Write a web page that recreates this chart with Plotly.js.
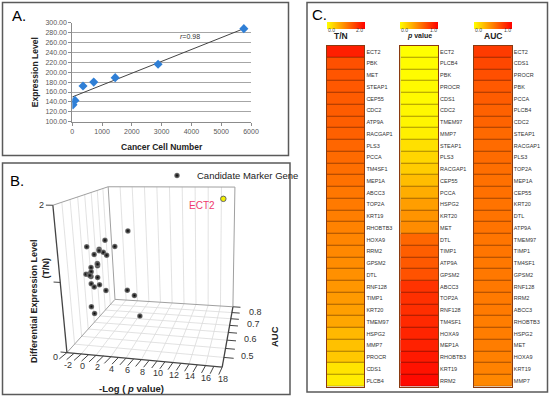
<!DOCTYPE html>
<html><head><meta charset="utf-8">
<script src="https://cdn.plot.ly/plotly-3.0.1.min.js"></script>
<style>html,body{margin:0;padding:0;background:#fff}#chart{width:550px;height:397px}</style>
</head><body><div id="chart"></div>
<script>
// ---------- Panel A data ----------
const cellNumbers = [22, 90, 360, 720, 1440, 2880, 5760];
const expressionLevels = [134, 143, 172, 180, 189, 216, 288];
const trendCells = [0, 5760];
const trendLevels = [150, 288];
const rLabel = '<i>r</i>=0.98';

// ---------- Panel B data (-log p, AUC, T/N) ----------
const bNegLogP = [4.0, 1.28, 0.2, 1.96, 0.72, 0.92, 1.02, 0.35, 0.32, 0.13, 0.17, 0.02, 0.05, 0.08, 0.22, 0.03, 0.23, 0.02, 0.57, 2.83, 3.9, 0.22, 0.6, 5.76, 0.35, 0.15, 0.7, 0.12];
const bAUC     = [0.65, 0.61, 0.53, 0.65, 0.59, 0.61, 0.63, 0.57, 0.59, 0.60, 0.55, 0.52, 0.54, 0.55, 0.59, 0.55, 0.60, 0.57, 0.63, 0.69, 0.69, 0.53, 0.53, 0.61, 0.59, 0.55, 0.59, 0.54];
const bTN      = [1.48, 1.38, 1.38, 1.24, 1.27, 1.2, 1.13, 1.22, 1.06, 1.01, 1.06, 1.01, 0.98, 0.93, 0.85, 0.82, 0.72, 0.74, 0.58, 0.49, 0.41, 0.52, 0.42, 0.25, 1.05, 1.0, 1.25, 0.96];
const ectGene = ['ECT2'];
const ectNegLogP = [16.5];
const ectAUC = [0.80];
const ectTN = [1.85];
const bXRange = [-2, 18], bYRange = [0.45, 0.85], bZRange = [0, 2];
const bXTicks = [-2, 0, 2, 4, 6, 8, 10, 12, 14, 16, 18];
const bXMinor = [-1, 1, 3, 5, 7, 9, 11, 13, 15, 17];
const bYTicks = [0.5, 0.55, 0.6, 0.65, 0.7, 0.75, 0.8, 0.85];
const bYTickText = ['0.5', '', '0.6', '', '0.7', '', '0.8', ''];
const bZTicks = [0, 1, 2];
const bZTickText = ['0', '', '2'];

// ---------- Panel C data ----------
const tnGenes = ['ECT2','PBK','MET','STEAP1','CEP55','CDC2','ATP9A','RACGAP1','PLS3','PCCA','TM4SF1','MEP1A','ABCC3','TOP2A','KRT19','RHOBTB3','HOXA9','RRM2','GPSM2','DTL','RNF128','TIMP1','KRT20','TMEM97','HSPG2','MMP7','PROCR','CDS1','PLCB4'];
const tnValues = [1.76,1.37,1.33,1.31,1.29,1.28,1.26,1.25,1.2,1.17,1.14,1.11,1.07,1.04,1.01,0.98,0.96,0.93,0.9,0.87,0.82,0.79,0.75,0.7,0.56,0.49,0.43,0.21,0.15];
const pGenes = ['ECT2','PLCB4','PBK','PROCR','CDS1','CDC2','TMEM97','MMP7','STEAP1','PLS3','RACGAP1','CEP55','PCCA','HSPG2','KRT20','MET','DTL','TIMP1','ATP9A','GPSM2','ABCC3','TOP2A','RNF128','TM4SF1','HOXA9','MEP1A','RHOBTB3','KRT19','RRM2'];
const pValues = [0.0,0.01,0.01,0.02,0.02,0.03,0.04,0.06,0.12,0.16,0.2,0.26,0.32,0.38,0.42,0.45,0.6,0.63,0.65,0.68,0.8,0.81,0.82,0.84,0.86,0.87,0.9,0.93,0.96];
const aucGenes = ['ECT2','CDS1','PROCR','PBK','PCCA','PLCB4','CDC2','STEAP1','RACGAP1','PLS3','TOP2A','MEP1A','CEP55','KRT20','DTL','ATP9A','TMEM97','TIMP1','TM4SF1','GPSM2','RNF128','RRM2','ABCC3','RHOBTB3','HSPG2','MET','HOXA9','KRT19','MMP7'];
const aucValues = [0.77,0.72,0.69,0.65,0.64,0.62,0.61,0.59,0.58,0.58,0.57,0.56,0.56,0.55,0.55,0.55,0.54,0.54,0.53,0.53,0.53,0.52,0.52,0.51,0.51,0.51,0.5,0.49,0.47];
const colTitles = ['<b>T/N</b>', '<b><i>p</i> value</b>', '<b>AUC</b>'];
const colRanges = [[0, 2], [0, 1], [0, 1]];
const colTickText = [['0.0', '2.0'], ['0.0', '1.0'], ['0.0', '1.0']];

// ---------- helpers ----------
const W = 550, H = 397;
const px = v => v / W, py = v => 1 - v / H;
const FONT = 'Arial, "Liberation Sans", sans-serif';
const yr = [[0, '#ffff00'], [1, '#ff0000']];
const yrDark = [[0, '#a89a00'], [1, '#a00000']];

// ---- Panel B camera: pinhole projection fitted (DLT) to where the axis box corners sit ----
const boxView = [
  [[0,0,0],[67,353]], [[1,0,0],[222,367]], [[0,1,0],[115,299]], [[1,1,0],[233,307]],
  [[0,0,1],[53,205]], [[0,1,1],[108,187]], [[1,1,1],[235,187]]
];
function fitCamera(pts) {
  const n = 11, M = [...Array(n)].map(() => Array(n + 1).fill(0));
  const rows = [];
  pts.forEach(([[X, Y, Z], [u, v]]) => {
    rows.push([[X, Y, Z, 1, 0, 0, 0, 0, -u * X, -u * Y, -u * Z], u]);
    rows.push([[0, 0, 0, 0, X, Y, Z, 1, -v * X, -v * Y, -v * Z], v]);
  });
  rows.forEach(([a, b]) => { for (let i = 0; i < n; i++) { for (let j = 0; j < n; j++) M[i][j] += a[i] * a[j]; M[i][n] += a[i] * b; } });
  for (let c = 0; c < n; c++) {
    let p = c; for (let r = c + 1; r < n; r++) if (Math.abs(M[r][c]) > Math.abs(M[p][c])) p = r;
    [M[c], M[p]] = [M[p], M[c]];
    for (let r = 0; r < n; r++) { if (r === c) continue; const f = M[r][c] / M[c][c]; for (let k = c; k <= n; k++) M[r][k] -= f * M[c][k]; }
  }
  return M.map((row, i) => row[n] / row[i]);
}
const P = fitCamera(boxView);
function proj(s, t, h) {
  const w = P[8] * s + P[9] * t + P[10] * h + 1;
  return [(P[0] * s + P[1] * t + P[2] * h + P[3]) / w, (P[4] * s + P[5] * t + P[6] * h + P[7]) / w];
}
const nx = v => (v - bXRange[0]) / (bXRange[1] - bXRange[0]);
const ny = v => (v - bYRange[0]) / (bYRange[1] - bYRange[0]);
const nz = v => (v - bZRange[0]) / (bZRange[1] - bZRange[0]);
const projData = (x, y, z) => proj(nx(x), ny(y), nz(z));
function segs(list) {
  const X = [], Y = [];
  list.forEach(([a, b]) => { const p = proj(...a), q = proj(...b); X.push(p[0], q[0], null); Y.push(p[1], q[1], null); });
  return {x: X, y: Y};
}
const lineTrace = (list, color, width) => Object.assign({type:'scatter', mode:'lines', xaxis:'x5', yaxis:'y5',
  line:{color:color, width:width}, showlegend:false, hoverinfo:'skip'}, segs(list));

const traces = [];
// Panel A
traces.push({type:'scatter', mode:'lines', x:trendCells, y:trendLevels, xaxis:'x', yaxis:'y',
  line:{color:'#444', width:1}, showlegend:false, hoverinfo:'skip'});
traces.push({type:'scatter', mode:'markers', x:cellNumbers, y:expressionLevels, xaxis:'x', yaxis:'y',
  marker:{symbol:'diamond', size:7, color:'#2f7fd6'}, showlegend:false});

// Panel B: grid, box, axes
const gridL = [];
bXTicks.slice(1, -1).forEach(v => { const s = nx(v); gridL.push([[s,0,0],[s,1,0]], [[s,1,0],[s,1,1]]); });
bYTicks.filter(v => v < bYRange[1]).forEach(v => { const t = ny(v); gridL.push([[0,t,0],[1,t,0]], [[0,t,0],[0,t,1]]); });
traces.push(lineTrace(gridL, '#dadada', 0.8));
traces.push(lineTrace([[[0,1,0],[0,1,1]], [[1,1,0],[1,1,1]], [[0,0,1],[0,1,1]], [[0,1,1],[1,1,1]],
  [[0,0,0],[0,1,0]], [[0,1,0],[1,1,0]]], '#a0a0a0', 1));
const tickL = [];
bXTicks.concat(bXMinor).forEach(v => { const s = nx(v); tickL.push([[s,0,0],[s - 0.012,-0.09,0]]); });
bYTicks.forEach(v => { const t = ny(v); tickL.push([[1,t,0],[1.06,t,0]]); });
bZTicks.forEach(v => { const h = nz(v); tickL.push([[0,0,h],[-0.045,0,h]]); });
traces.push(lineTrace(tickL, '#444', 1));
traces.push(lineTrace([[[0,0,0],[1,0,0]], [[1,0,0],[1,1,0]], [[0,0,0],[0,0,1]]], '#444', 1.3));

// Panel B: points
const bProj = bNegLogP.map((v, i) => projData(v, bAUC[i], bTN[i]));
traces.push({type:'scatter', mode:'markers', xaxis:'x5', yaxis:'y5', x:bProj.map(p => p[0]), y:bProj.map(p => p[1]),
  name:'Candidate Marker Gene', showlegend:true,
  marker:{size:5.5, color:'#808080', gradient:{type:'radial', color:'#000'}, line:{width:0}}});
const eProj = ectNegLogP.map((v, i) => projData(v, ectAUC[i], ectTN[i]));
traces.push({type:'scatter', mode:'markers', xaxis:'x5', yaxis:'y5', x:eProj.map(p => p[0]), y:eProj.map(p => p[1]),
  name:ectGene[0], showlegend:false, marker:{size:5.5, color:'#f2f000', line:{color:'#666', width:1}}});

// Panel C
const cols = [
  {genes:tnGenes, vals:tnValues, xa:'x2', ya:'y2', x0:326.7, x1:364.3, hx:341.5, hs:8.5},
  {genes:pGenes, vals:pValues, xa:'x3', ya:'y3', x0:400.3, x1:438.0, hx:419.2, hs:7},
  {genes:aucGenes, vals:aucValues, xa:'x4', ya:'y4', x0:474.0, x1:511.7, hx:492.5, hs:8.5}
];
cols.forEach((c, i) => {
  const z = c.vals.map(v => [v]);
  traces.push({type:'heatmap', z:z, x:[colTitles[i]], y:c.genes, xaxis:c.xa, yaxis:c.ya,
    colorscale:yrDark, zmin:colRanges[i][0], zmax:colRanges[i][1], showscale:false, hoverinfo:'skip'});
  traces.push({type:'heatmap', z:z, x:[colTitles[i]], y:c.genes, xaxis:c.xa, yaxis:c.ya,
    colorscale:yr, zmin:colRanges[i][0], zmax:colRanges[i][1], ygap:1,
    showscale:true,
    colorbar:{orientation:'h', x:px((c.x0 + c.x1) / 2), xanchor:'center', y:py(21.7), yanchor:'top',
      len:c.x1 - c.x0, lenmode:'pixels', thickness:6.6, thicknessmode:'pixels', outlinewidth:0,
      xpad:0, ypad:0, showticklabels:false, ticks:''}});
});

const heatX = (c, ya) => ({domain:[px(c.x0), px(c.x1)], anchor:ya, showticklabels:false, ticks:'',
  showgrid:false, zeroline:false, showline:true, mirror:true, linecolor:'#8a3a10', linewidth:1, fixedrange:true});
const heatY = (xa) => ({domain:[py(386.5), py(45.7)], anchor:xa, side:'right', autorange:'reversed', type:'category',
  showgrid:false, zeroline:false, ticks:'', showline:true, mirror:true, linecolor:'#8a3a10', linewidth:1,
  tickfont:{size:5.5, color:'#333', family:FONT}});

const ann = (x, y, text, size, extra) => Object.assign({xref:'paper', yref:'paper', x:px(x), y:py(y), text:text,
  showarrow:false, xanchor:'center', yanchor:'middle', font:{size:size, color:'#222', family:FONT}}, extra || {});
const annotations = [
  ann(19, 15.5, 'A.', 15, {font:{size:15, color:'#000', family:FONT}}),
  ann(17.5, 180, 'B.', 15, {font:{size:15, color:'#000', family:FONT}}),
  ann(319, 15, 'C.', 15, {font:{size:15, color:'#000', family:FONT}}),
  {xref:'x', yref:'y', x:3935, y:272, text:rLabel, showarrow:false, xanchor:'center', yanchor:'middle', font:{size:7, color:'#333'}},
  ann(34, 301, '<b>Differential Expression Level</b>', 9, {textangle:-90}),
  ann(45.5, 268, '<b>(T/N)</b>', 9, {textangle:-90}),
  ann(274, 337, '<b>AUC</b>', 9.5, {textangle:-90}),
  ann(131, 388, '<b>-Log ( <i>p</i> value)</b>', 9.5)
];
cols.forEach((c, i) => {
  annotations.push(ann(c.hx, 36, colTitles[i], c.hs, {borderpad:0}));
  annotations.push(ann(c.x0, 30, colTickText[i][0], 5, {xanchor:'left', borderpad:0, font:{size:5, color:'#444', family:FONT}}));
  annotations.push(ann(c.x1, 30, colTickText[i][1], 5, {xanchor:'right', borderpad:0, font:{size:5, color:'#444', family:FONT}}));
});
// Panel B tick labels & point label (projected)
bXTicks.forEach(v => { const p = projData(v, bYRange[0], bZRange[0]);
  annotations.push({xref:'x5', yref:'y5', x:p[0], y:p[1], text:String(v), showarrow:false, xanchor:'center', yanchor:'middle',
    yshift:-12, xshift:1, font:{size:9, color:'#333', family:FONT}}); });
bYTicks.forEach((v, i) => { if (!bYTickText[i]) return; const p = projData(bXRange[1], v, bZRange[0]);
  annotations.push({xref:'x5', yref:'y5', x:p[0], y:p[1], text:bYTickText[i], showarrow:false, xanchor:'left', yanchor:'middle',
    xshift:15, yshift:1, font:{size:9, color:'#333', family:FONT}}); });
bZTicks.forEach((v, i) => { if (!bZTickText[i]) return; const p = projData(bXRange[0], bYRange[0], v);
  annotations.push({xref:'x5', yref:'y5', x:p[0], y:p[1], text:bZTickText[i], showarrow:false, xanchor:'right', yanchor:'middle',
    xshift:-7, yshift:(v === 0 ? -4 : 0), font:{size:9, color:'#333', family:FONT}}); });
annotations.push({xref:'x5', yref:'y5', x:eProj[0][0], y:eProj[0][1], text:ectGene[0], showarrow:false,
  xanchor:'right', yanchor:'middle', xshift:-6, yshift:-7, font:{color:'#ee3a6e', size:10, family:FONT}});

const layout = {
  width:W, height:H, margin:{l:0, r:0, t:0, b:0}, paper_bgcolor:'#fff', plot_bgcolor:'rgba(0,0,0,0)',
  font:{family:FONT, color:'#222'},
  xaxis:{domain:[px(72.3), px(251)], anchor:'y', range:[0, 6000], dtick:1000, showgrid:false, zeroline:false,
    showline:true, linecolor:'#8c8c8c', ticks:'outside', ticklen:3, tickcolor:'#8c8c8c',
    tickfont:{size:7, color:'#595959'}, title:{text:'<b>Cancer Cell Number</b>', font:{size:8.5, color:'#222'}, standoff:9}},
  yaxis:{domain:[py(121.7), py(22.7)], anchor:'x', range:[100, 300], dtick:20, tickformat:'.2f',
    showgrid:true, gridcolor:'#a6a6a6', zeroline:false, showline:true, linecolor:'#8c8c8c', ticks:'outside',
    ticklen:3, tickcolor:'#8c8c8c', tickfont:{size:7, color:'#595959'},
    title:{text:'<b>Expression Level</b>', font:{size:8.5, color:'#222'}, standoff:5}},
  xaxis2:heatX(cols[0], 'y2'), yaxis2:heatY('x2'),
  xaxis3:heatX(cols[1], 'y3'), yaxis3:heatY('x3'),
  xaxis4:heatX(cols[2], 'y4'), yaxis4:heatY('x4'),
  xaxis5:{domain:[px(2), px(290)], range:[2, 290], anchor:'y5', visible:false, fixedrange:true},
  yaxis5:{domain:[py(395), py(163)], range:[395, 163], anchor:'x5', visible:false, fixedrange:true},
  legend:{x:px(157), y:py(161), xanchor:'left', yanchor:'top', bgcolor:'rgba(0,0,0,0)',
    font:{size:9.5, color:'#222', family:FONT}},
  shapes:[
    {type:'rect', xref:'paper', yref:'paper', x0:px(2.5), x1:px(288.5), y0:py(155.5), y1:py(2.5), line:{color:'#5a5a5a', width:1.5}},
    {type:'rect', xref:'paper', yref:'paper', x0:px(2.5), x1:px(290), y0:py(394.5), y1:py(163), line:{color:'#5a5a5a', width:1.5}},
    {type:'rect', xref:'paper', yref:'paper', x0:px(307), x1:px(547.5), y0:py(392), y1:py(2.5), line:{color:'#5a5a5a', width:1.5}}
  ],
  annotations:annotations
};

Plotly.newPlot('chart', traces, layout, {staticPlot:true, displayModeBar:false});
</script>
</body></html>
